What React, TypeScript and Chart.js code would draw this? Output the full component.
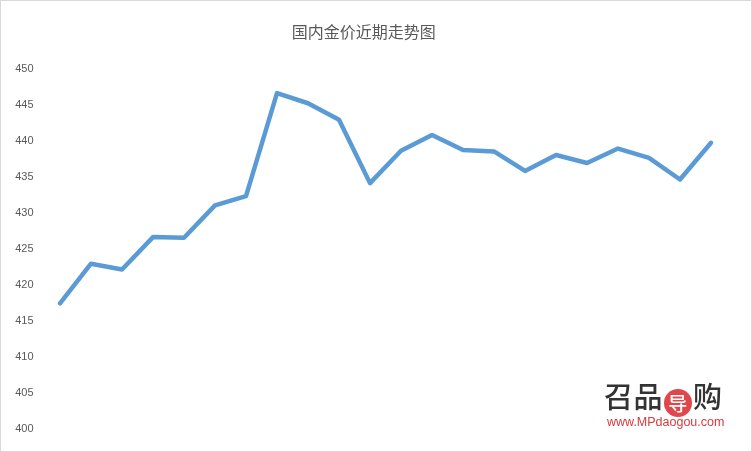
import React, { useEffect, useRef } from "react";
import { Chart, registerables } from "chart.js";

Chart.register(...registerables);

const TITLE = "国内金价近期走势图";
const categories = ["1", "2", "3", "4", "5", "6", "7", "8", "9", "10", "11", "12", "13", "14", "15", "16", "17", "18", "19", "20", "21", "22"];
const prices = [417.4, 422.9, 422.1, 426.6, 426.5, 431.0, 432.3, 446.6, 445.2, 442.9, 434.1, 438.6, 440.8, 438.7, 438.5, 435.8, 438.0, 436.9, 438.9, 437.6, 434.6, 439.7];
const Y_MIN = 400;
const Y_MAX = 450;
const Y_STEP = 5;

export default function App() {
  const ref = useRef<HTMLCanvasElement | null>(null);

  useEffect(() => {
    if (!ref.current) return;
    const chart = new Chart(ref.current, {
      type: "line",
      data: {
        labels: categories,
        datasets: [
          {
            data: prices,
            borderColor: "#5b9bd5",
            borderWidth: 4.5,
            pointRadius: 0,
            pointHoverRadius: 0,
            tension: 0,
            fill: false,
            borderJoinStyle: "round",
            borderCapStyle: "round",
          },
        ],
      },
      options: {
        animation: false,
        responsive: false,
        maintainAspectRatio: false,
        layout: { padding: { left: 0, right: 24.5, top: 0, bottom: 22.5 } },
        plugins: {
          legend: { display: false },
          tooltip: { enabled: false },
          title: {
            display: true,
            text: TITLE,
            color: "#595959",
            font: { family: "'Noto Sans CJK SC'", size: 16, weight: "normal" },
            padding: { top: 21, bottom: 27.5 },
          },
        },
        scales: {
          x: {
            type: "category",
            offset: true,
            display: false,
            grid: { display: false },
          },
          y: {
            min: Y_MIN,
            max: Y_MAX,
            grid: { display: false, drawTicks: false },
            border: { display: false },
            ticks: {
              stepSize: Y_STEP,
              padding: 11,
              color: "#595959",
              font: { family: "'Liberation Sans'", size: 11 },
            },
            afterFit: (scale: any) => {
              scale.width = 43.5;
            },
          },
        },
      },
    });
    return () => chart.destroy();
  }, []);

  return (
    <div
      style={{
        position: "fixed",
        left: 0,
        top: 0,
        width: 752,
        height: 452,
        boxSizing: "border-box",
        border: "1px solid #d9d9d9",
        background: "#ffffff",
        overflow: "hidden",
      }}
    >
      <canvas ref={ref} width={750} height={450} style={{ display: "block" }} />
      <div
        style={{
          position: "absolute",
          left: 603,
          top: 377,
          fontFamily: "'Noto Sans CJK SC'",
          fontSize: 29,
          fontWeight: 500,
          color: "#333333",
          lineHeight: "34px",
          letterSpacing: 0.5,
          whiteSpace: "nowrap",
        }}
      >
        召品
        <span
          style={{
            display: "inline-block",
            width: 28,
            height: 28,
            borderRadius: 14,
            background: "#e0474c",
            color: "#ffffff",
            fontSize: 19,
            lineHeight: "28px",
            textAlign: "center",
            verticalAlign: "-3px",
            margin: "0 1px",
          }}
        >
          导
        </span>
        购
      </div>
      <div
        style={{
          position: "absolute",
          left: 606,
          top: 414,
          fontFamily: "'Liberation Sans'",
          fontSize: 12.5,
          color: "#d9383e",
          whiteSpace: "nowrap",
        }}
      >
        www.MPdaogou.com
      </div>
    </div>
  );
}
